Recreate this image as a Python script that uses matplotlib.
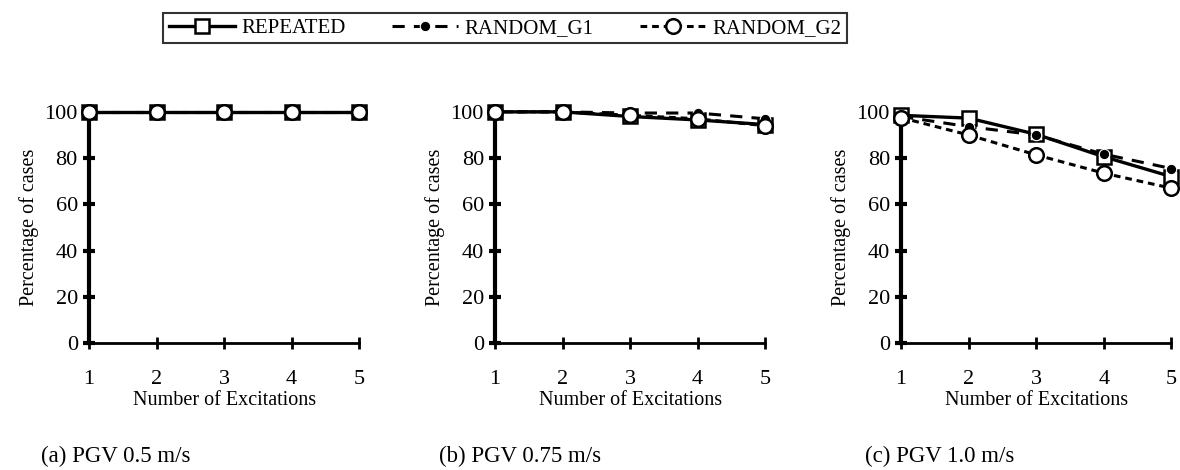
import matplotlib
matplotlib.use("Agg")
import matplotlib.pyplot as plt

plt.rcParams['font.family'] = ['Liberation Serif', 'DejaVu Serif']

excitations = [1, 2, 3, 4, 5]
captions = ["(a) PGV 0.5 m/s", "(b) PGV 0.75 m/s", "(c) PGV 1.0 m/s"]

# valores por panel: REPEATED, RANDOM_G1, RANDOM_G2
repeated = [[100, 100, 100, 100, 100],
            [100, 100, 98, 96.5, 94.5],
            [98.5, 97.3, 90.3, 80.6, 72]]
random_g1 = [[100, 100, 100, 100, 100],
             [100, 100, 99.5, 99.5, 97],
             [98, 93.6, 90, 81.7, 75.5]]
random_g2 = [[100, 100, 100, 100, 100],
             [100, 100, 98.5, 97, 94],
             [97.5, 90, 81.4, 73.5, 67]]

fig = plt.figure(figsize=(11.8, 4.7), dpi=100)
lefts = [0.0754, 0.4195, 0.7636]
caption_x = [0.098, 0.441, 0.796]

for i in range(3):
    ax = fig.add_axes([lefts[i], 0.270, 0.229, 0.492])
    ax.plot(excitations, repeated[i], color='black', linewidth=2.4, marker='s',
            markersize=9.5, markerfacecolor='white', markeredgecolor='black',
            markeredgewidth=1.8, clip_on=False, zorder=3, label='REPEATED')
    ax.plot(excitations, random_g1[i], color='black', linewidth=2.2, linestyle=(0, (4, 3)),
            marker='o', markersize=7.5, markerfacecolor='black', markeredgecolor='white',
            markeredgewidth=0.8, clip_on=False, zorder=4, label='RANDOM_G1')
    ax.plot(excitations, random_g2[i], color='black', linewidth=2.2, linestyle=(0, (2.2, 1.6)),
            marker='o', markersize=10.5, markerfacecolor='white', markeredgecolor='black',
            markeredgewidth=1.8, clip_on=False, zorder=5, label='RANDOM_G2')

    ax.set_xlim(1, 5)
    ax.set_ylim(0, 100)
    ax.set_xticks(excitations)
    ax.set_yticks([0, 20, 40, 60, 80, 100])
    for s in ['top', 'right']:
        ax.spines[s].set_visible(False)
    ax.spines['left'].set_linewidth(3)
    ax.spines['bottom'].set_linewidth(2)
    ax.tick_params(axis='y', direction='inout', length=8, width=3, labelsize=16, pad=4)
    ax.tick_params(axis='x', direction='inout', length=9, width=2, labelsize=16, pad=15)
    ax.set_xlabel("Number of Excitations", fontsize=14.5, labelpad=1)
    ax.set_ylabel("Percentage of cases", fontsize=14.5, labelpad=4)
    ax.patch.set_alpha(0)
    fig.text(caption_x[i], 0.016, captions[i], fontsize=16.5, ha='center')

handles, labels = ax.get_legend_handles_labels()
leg = fig.legend(handles, labels, loc='center', bbox_to_anchor=(0.428, 0.94), ncol=3,
                 fontsize=15, frameon=True, fancybox=False, handlelength=3.2,
                 columnspacing=2.2, handletextpad=0.3, borderpad=0.25)
leg.get_frame().set_edgecolor('black')
leg.get_frame().set_linewidth(1.5)

fig.savefig("out.png", dpi=100)
